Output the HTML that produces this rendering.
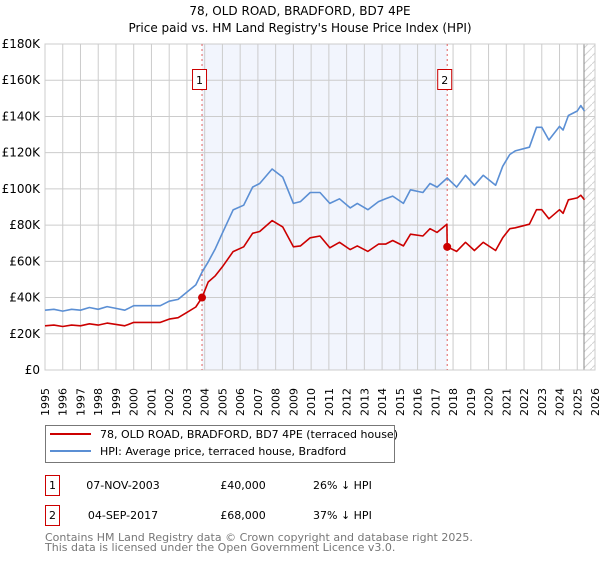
<!DOCTYPE html>
<html><head><meta charset="utf-8">
<style>
html,body{margin:0;padding:0;background:#fff;}
body{width:600px;height:560px;overflow:hidden;font-family:"DejaVu Sans","Liberation Sans",sans-serif;}
svg text{font-family:"DejaVu Sans","Liberation Sans",sans-serif;}
</style></head>
<body>
<svg id="chart" width="600" height="560" viewBox="0 0 600 560" xmlns="http://www.w3.org/2000/svg">
<defs>
<pattern id="hatch" patternUnits="userSpaceOnUse" width="8" height="8">
<path d="M0,8 L8,0" stroke="#d4d4d4" stroke-width="1"/>
</pattern>
</defs>
<text x="300" y="15" text-anchor="middle" font-size="12" fill="#000">78, OLD ROAD, BRADFORD, BD7 4PE</text>
<text x="300" y="32" text-anchor="middle" font-size="12" fill="#000">Price paid vs. HM Land Registry's House Price Index (HPI)</text>
<g id="plot"></g>
<g>
<rect x="45.5" y="425.5" width="349" height="37" fill="#fff" stroke="#777" stroke-width="1"/>
<line x1="50" y1="434" x2="91" y2="434" stroke="#cc0000" stroke-width="2"/>
<text x="100" y="438" font-size="11" fill="#000">78, OLD ROAD, BRADFORD, BD7 4PE (terraced house)</text>
<line x1="50" y1="451" x2="91" y2="451" stroke="#5b8fd4" stroke-width="2"/>
<text x="100" y="455" font-size="11" fill="#000">HPI: Average price, terraced house, Bradford</text>
</g>
<g font-size="11" fill="#000">
<rect x="45.5" y="475.5" width="14" height="20" fill="#fff" stroke="#cc0000"/>
<text x="52.5" y="489" text-anchor="middle">1</text>
<text x="123" y="489" text-anchor="middle">07-NOV-2003</text>
<text x="243" y="489" text-anchor="middle">£40,000</text>
<text x="313" y="489">26% ↓ HPI</text>
<rect x="45.5" y="505.5" width="14" height="20" fill="#fff" stroke="#cc0000"/>
<text x="52.5" y="519" text-anchor="middle">2</text>
<text x="123" y="519" text-anchor="middle">04-SEP-2017</text>
<text x="243" y="519" text-anchor="middle">£68,000</text>
<text x="313" y="519">37% ↓ HPI</text>
</g>
<text x="45" y="541" font-size="11" fill="#777">Contains HM Land Registry data © Crown copyright and database right 2025.</text>
<text x="45" y="551" font-size="11" fill="#777">This data is licensed under the Open Government Licence v3.0.</text>
</svg>
<script>
const yTicks = [0,20000,40000,60000,80000,100000,120000,140000,160000,180000];
const yTickLabels = ["£0","£20K","£40K","£60K","£80K","£100K","£120K","£140K","£160K","£180K"];
const xYears = [1995,1996,1997,1998,1999,2000,2001,2002,2003,2004,2005,2006,2007,2008,2009,2010,2011,2012,2013,2014,2015,2016,2017,2018,2019,2020,2021,2022,2023,2024,2025,2026];
const hpiDates = [1995,1995.5,1996,1996.5,1997,1997.5,1998,1998.5,1999,1999.5,2000,2000.5,2001,2001.5,2002,2002.5,2003,2003.5,2003.85,2004.2,2004.6,2005.0,2005.6,2006.2,2006.7,2007.1,2007.8,2008.4,2009.0,2009.4,2009.95,2010.5,2011.05,2011.6,2012.2,2012.6,2013.2,2013.8,2014.2,2014.6,2015.2,2015.6,2016.3,2016.7,2017.1,2017.67,2018.2,2018.7,2019.2,2019.7,2020.4,2020.8,2021.2,2021.5,2022.3,2022.7,2023.0,2023.4,2024.0,2024.2,2024.5,2025.0,2025.2,2025.4];
const hpiValues = [33000,33500,32500,33500,33000,34500,33500,35000,34000,33000,35500,35500,35500,35500,38000,39000,43000,47000,54000,59700,67000,75600,88400,91000,101000,103000,111000,106500,92000,93000,98000,98000,92000,94500,89500,92000,88500,93000,94500,96000,92000,99500,98000,103000,101000,106000,101000,107500,102000,107500,102000,112500,119000,121000,123000,134000,134000,127000,134500,132500,140500,143000,146000,143000];
const priceDates = [1995,1995.5,1996,1996.5,1997,1997.5,1998,1998.5,1999,1999.5,2000,2000.5,2001,2001.5,2002,2002.5,2003,2003.5,2003.85,2004.2,2004.6,2005.0,2005.6,2006.2,2006.7,2007.1,2007.8,2008.4,2009.0,2009.4,2009.95,2010.5,2011.05,2011.6,2012.2,2012.6,2013.2,2013.8,2014.2,2014.6,2015.2,2015.6,2016.3,2016.7,2017.1,2017.65,2017.67,2018.2,2018.7,2019.2,2019.7,2020.4,2020.8,2021.2,2021.5,2022.3,2022.7,2023.0,2023.4,2024.0,2024.2,2024.5,2025.0,2025.2,2025.4];
const priceValues = [24400,24800,24000,24800,24400,25500,24800,25900,25200,24400,26300,26300,26300,26300,28100,28900,31800,34800,40000,48600,52000,57000,65400,68000,75500,76500,82500,79000,68000,68500,73000,74000,67500,70500,66500,68500,65500,69500,69500,71500,68500,75000,74000,78000,76000,80500,68000,65500,70500,66000,70500,66000,73000,78000,78500,80500,88500,88500,83500,88500,86500,94000,95000,96500,94000];
const saleDates = [2003.85,2017.67];
const saleValues = [40000,68000];
const saleLabels = ["1","2"];
const forecastStart = 2025.38;

const L=45,R=595,T=44,B=370;
const xs = d => L + (d-1995)/(2026-1995)*(R-L);
const ys = v => B - v/180000*(B-T);
const NS="http://www.w3.org/2000/svg";
const plot=document.getElementById('plot');
function mk(tag,attrs,parent){const e=document.createElementNS(NS,tag);for(const k in attrs)e.setAttribute(k,attrs[k]);(parent||plot).appendChild(e);return e;}

let bg=mk('rect',{x:L,y:T,width:R-L,height:B-T,fill:'#fff'});


let sh=mk('rect',{x:xs(saleDates[0]),y:T,width:xs(saleDates[1])-xs(saleDates[0]),height:B-T,fill:'#f2f5fd'});


let ht=mk('rect',{x:xs(forecastStart),y:T,width:R-xs(forecastStart),height:B-T,fill:'url(#hatch)'});



yTicks.forEach((v,i)=>{
  let g=mk('line',{x1:L,x2:R,y1:ys(v),y2:ys(v),stroke:'#cccccc','stroke-width':1});
  
  
  let t=mk('text',{x:L-5,y:ys(v)+4,'text-anchor':'end','font-size':12,fill:'#000'});
  t.textContent=yTickLabels[i];
  
  
});
xYears.forEach(yr=>{
  let g=mk('line',{x1:xs(yr),x2:xs(yr),y1:T,y2:B,stroke:'#cccccc','stroke-width':1});
  
  
  let t=mk('text',{x:0,y:0,'text-anchor':'end','font-size':11,fill:'#000',transform:`translate(${xs(yr)+4},388) rotate(-90)`});
  t.textContent=yr;
  
  
});
let fl=mk('line',{x1:xs(forecastStart),x2:xs(forecastStart),y1:T,y2:B,stroke:'#888','stroke-width':1});


let br=mk('rect',{x:L,y:T,width:R-L,height:B-T,fill:'none',stroke:'#cccccc'});



saleDates.forEach((d,i)=>{
  let l=mk('line',{x1:xs(d),x2:xs(d),y1:T,y2:B,stroke:'#e06060','stroke-width':1,'stroke-dasharray':'2,3'});
  
  
});

function pathOf(ds,vs){return ds.map((d,i)=>(i?'L':'M')+xs(d).toFixed(1)+','+ys(vs[i]).toFixed(1)).join(' ');}
let hp=mk('path',{d:pathOf(hpiDates,hpiValues),fill:'none',stroke:'#5b8fd4','stroke-width':1.6,'stroke-linejoin':'round'});


let pp=mk('path',{d:pathOf(priceDates,priceValues),fill:'none',stroke:'#cc0000','stroke-width':1.6,'stroke-linejoin':'round'});



saleDates.forEach((d,i)=>{
  let c=mk('circle',{cx:xs(d),cy:ys(saleValues[i]),r:4,fill:'#cc0000'});
  
  
  let bx=xs(d)-2;
  let r=mk('rect',{x:bx-7.5,y:69.5,width:14,height:20,fill:'#fff',stroke:'#cc0000'});
  
  
  let t=mk('text',{x:bx-0.5,y:84,'text-anchor':'middle','font-size':11,fill:'#000'});
  t.textContent=saleLabels[i];
  
  
});
</script>
</body></html>
